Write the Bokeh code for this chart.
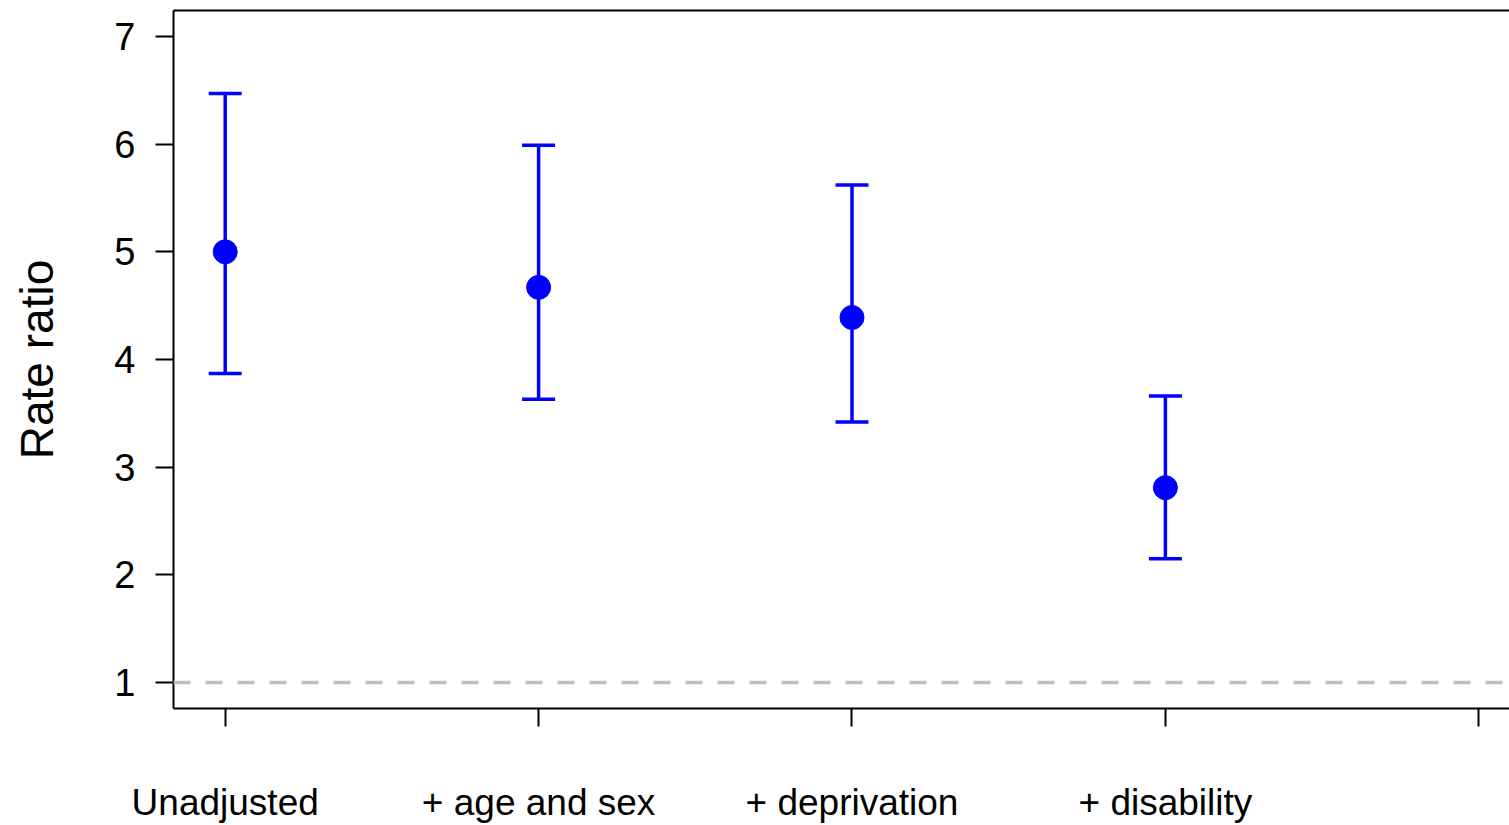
from bokeh.plotting import figure
from bokeh.models import Whisker, TeeHead, ColumnDataSource, FixedTicker, LinearAxis, Span, Range1d
from bokeh.embed import file_html
from bokeh.resources import INLINE

# Data
categories = ["Unadjusted", "+ age and sex", "+ deprivation", "+ disability"]
positions = [1, 2, 3, 4]
rate_ratio = [5.00, 4.67, 4.39, 2.81]
ci_lower = [3.87, 3.63, 3.42, 2.15]
ci_upper = [6.47, 5.99, 5.62, 3.66]
x_ticks = [1, 2, 3, 4, 5]
y_ticks = [1, 2, 3, 4, 5, 6, 7]
reference_value = 1

src = ColumnDataSource(dict(x=positions, y=rate_ratio, lo=ci_lower, hi=ci_upper))

FONT = "Liberation Sans"
BLUE = "#0000FF"

p = figure(width=1509, height=825, output_backend="svg", toolbar_location=None,
           x_range=Range1d(0.835, 5.098), y_range=Range1d(0.759, 7.241),
           min_border_left=173, min_border_right=0, min_border_top=10, min_border_bottom=116)
p.outline_line_color = None
p.grid.visible = False
p.background_fill_color = "white"
p.border_fill_color = "white"

# reference dashed line
p.add_layout(Span(location=reference_value, dimension="width", line_color="#BEBEBE",
                  line_width=3.5, line_dash="17 15"))

w = Whisker(source=src, base="x", lower="lo", upper="hi", line_color=BLUE, line_width=3.5,
            upper_head=TeeHead(size=33, line_color=BLUE, line_width=3.5),
            lower_head=TeeHead(size=33, line_color=BLUE, line_width=3.5))
p.add_layout(w)
p.scatter("x", "y", source=src, size=24, color=BLUE)

# x axis
xa = p.xaxis[0]
xa.ticker = FixedTicker(ticks=x_ticks)
xa.major_label_overrides = {i + 1: c for i, c in enumerate(categories)} | {5: " "}
xa.major_tick_out = 18
xa.major_tick_in = 0
xa.minor_tick_line_color = None
xa.axis_line_width = 2
xa.major_tick_line_width = 2
xa.major_label_standoff = 55
xa.major_label_text_font = FONT
xa.major_label_text_font_size = "37px"
xa.major_label_text_color = "black"

# y axis
ya = p.yaxis[0]
ya.ticker = FixedTicker(ticks=y_ticks)
ya.major_tick_out = 18
ya.major_tick_in = 0
ya.minor_tick_line_color = None
ya.axis_line_width = 2
ya.major_tick_line_width = 2
ya.major_label_standoff = 20
ya.major_label_text_font = FONT
ya.major_label_text_font_size = "38px"
ya.major_label_text_color = "black"
ya.axis_label = "Rate ratio"
ya.axis_label_text_font = FONT
ya.axis_label_text_font_size = "46px"
ya.axis_label_text_font_style = "normal"
ya.axis_label_text_color = "black"
ya.axis_label_standoff = 48

# top frame line
top = LinearAxis(ticker=FixedTicker(ticks=[]), major_tick_out=0, major_tick_in=0,
                 minor_tick_out=0, minor_tick_in=0, axis_line_width=2,
                 major_tick_line_color=None, minor_tick_line_color=None, major_label_standoff=0)
p.add_layout(top, "above")

open("out.html", "w").write(file_html(p, INLINE))
